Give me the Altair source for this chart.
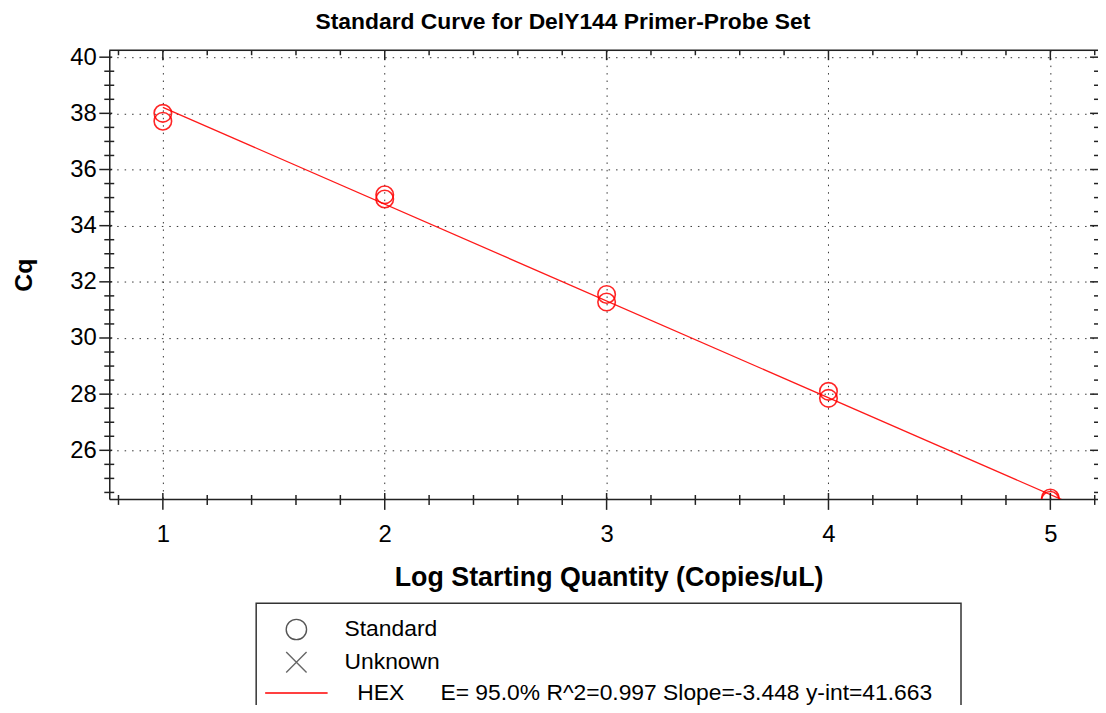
import altair as alt
import pandas as pd

# ---------------- data ----------------
std_x = [1, 1, 2, 2, 3, 3, 4, 4, 5, 5]
std_cq = [38.0, 37.72, 35.1, 34.95, 31.55, 31.28, 28.1, 27.85, 24.3, 24.22]
slope = -3.448
intercept = 41.663
fit_x = [1.0, 5.25]
legend_labels = [
    "Standard",
    "Unknown",
    "\u200b\u00a0\u00a0HEX" + "\u00a0" * 5 + "\u2009"
    + "E= 95.0% R^2=0.997 Slope=-3.448 y-int=41.663",
]
x_major = [1, 2, 3, 4, 5]
x_minor = [0.8, 1.2, 1.4, 1.6, 1.8, 2.2, 2.4, 2.6, 2.8, 3.2, 3.4, 3.6, 3.8,
           4.2, 4.4, 4.6, 4.8, 5.2]
y_major = [26, 28, 30, 32, 34, 36, 38, 40]
y_minor = [24.5, 25, 25.5, 26.5, 27, 27.5, 28.5, 29, 29.5, 30.5, 31, 31.5,
           32.5, 33, 33.5, 34.5, 35, 35.5, 36.5, 37, 37.5, 38.5, 39, 39.5]
x_domain = [0.7584, 5.2148]
y_domain = [24.268, 40.247]

W, H = 996, 452
FONT = "Liberation Sans"
RED = "#ff0000"
AX = "#222222"

xscale = alt.Scale(domain=x_domain, nice=False, zero=False)
yscale = alt.Scale(domain=y_domain, nice=False, zero=False)

xaxis = alt.Axis(
    values=x_major, title="Log Starting Quantity (Copies/uL)",
    grid=True, gridDash=[1.5, 6], gridColor="#333333", gridWidth=1,
    ticks=False, tickSize=0, domain=True, domainColor=AX, domainWidth=1.5,
    labelFont=FONT, labelFontSize=24, labelColor="black", labelPadding=43,
    labelBaseline="alphabetic", labelFlush=False, labelOverlap=False,
    titleFont=FONT, titleFontSize=27, titleFontWeight="bold", titleColor="black",
    titleX=W / 2 + 5, titleY=87, titleBaseline="alphabetic",
)
yaxis = alt.Axis(
    values=y_major, title="Cq",
    grid=True, gridDash=[1.5, 6], gridColor="#333333", gridWidth=1,
    ticks=False, tickSize=0, domain=True, domainColor=AX, domainWidth=1.5,
    labelFont=FONT, labelFontSize=24, labelColor="black", labelPadding=13,
    labelBaseline="middle", labelFlush=False, labelOverlap=False,
    titleFont=FONT, titleFontSize=25, titleFontWeight="bold", titleColor="black",
    titleX=-78, titleY=226, titleBaseline="alphabetic", titleAngle=270,
)


def X(f):
    return alt.X(f, type="quantitative", scale=xscale, axis=xaxis)


def Y(f):
    return alt.Y(f, type="quantitative", scale=yscale, axis=yaxis)


std_df = pd.DataFrame({"x": std_x, "cq": std_cq})
fit_df = pd.DataFrame({"x": fit_x, "cq": [slope * v + intercept for v in fit_x]})
leg_df = pd.DataFrame({"x": [3.0] * 3, "cq": [30.0] * 3, "s": legend_labels})

leg_props = dict(
    orient="none", legendX=177, legendY=572, title=None,
    labelFont=FONT, labelFontSize=23, labelColor="black", labelLimit=1000,
    symbolSize=420, symbolStrokeWidth=1.4, rowPadding=6, labelOffset=37,
    symbolOpacity=1, direction="vertical",
)

points = alt.Chart(std_df).mark_point(
    shape="circle", filled=False, color=RED, size=310, strokeWidth=1.6,
    opacity=0.85, clip=True
).encode(x=X("x"), y=Y("cq"))

fit = alt.Chart(fit_df).mark_line(color=RED, strokeWidth=1.3, opacity=0.9, clip=True).encode(
    x=X("x"), y=Y("cq")
)

legend_layer = alt.Chart(leg_df).mark_point(
    filled=False, size=420, strokeWidth=1.4, opacity=0
).encode(
    x=X("x"), y=Y("cq"),
    shape=alt.Shape("s:N", scale=alt.Scale(
        domain=legend_labels,
        range=["circle", "M-1,-1L1,1M-1,1L1,-1", "M-3.07,0L3.07,0"]),
        legend=alt.Legend(**leg_props)),
    color=alt.Color("s:N", scale=alt.Scale(
        domain=legend_labels, range=["#555555", "#666666", "#ff0000"]),
        legend=alt.Legend(**leg_props)),
)


def hrule(vals, x1, x2):
    return alt.Chart(pd.DataFrame({"v": vals})).mark_rule(color=AX, strokeWidth=1.5).encode(
        y=Y("v"), x=alt.value(x1), x2=alt.value(x2))


def vrule(vals, y1, y2):
    return alt.Chart(pd.DataFrame({"v": vals})).mark_rule(color=AX, strokeWidth=1.5).encode(
        x=X("v"), y=alt.value(y1), y2=alt.value(y2))


ticks = [
    hrule(y_major, -10, 3), hrule(y_minor, -5, 5),
    hrule(y_major, W - 8, W), hrule(y_minor, W - 4, W),
    vrule(x_major, H - 6, H + 11), vrule(x_minor, H - 4, H + 6),
    vrule(x_major, 0, 10), vrule(x_minor, 0, 5),
]

one = pd.DataFrame({"a": [0]})
top_border = alt.Chart(one).mark_rule(color=AX, strokeWidth=1.5).encode(
    x=alt.value(0), x2=alt.value(W), y=alt.value(0))
legend_box = alt.Chart(one).mark_rect(filled=False, color="#333333", strokeWidth=1.5).encode(
    x=alt.value(148), x2=alt.value(858), y=alt.value(557), y2=alt.value(760))

chart = alt.layer(
    legend_box, fit, points, legend_layer, *ticks, top_border
).properties(
    width=W, height=H,
    title=alt.TitleParams(
        "Standard Curve for DelY144 Primer-Probe Set", font=FONT, fontSize=23,
        fontWeight="bold", color="black", anchor="middle", frame="group",
        dx=-41, dy=29, baseline="alphabetic", offset=22),
    autosize=alt.AutoSizeParams(type="none"),
    padding={"left": 102, "top": 40, "right": 0, "bottom": 205},
).configure_view(stroke="transparent").configure(background="white")

chart.save("out.html", embed_options={"renderer": "svg", "actions": False})
